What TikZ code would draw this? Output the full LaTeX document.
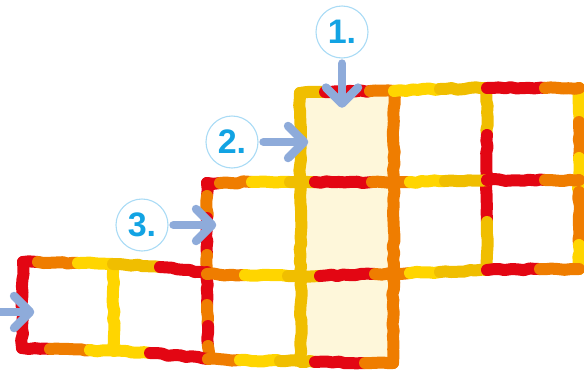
\documentclass[tikz,border=0pt]{standalone}
\usepackage{fontspec}
\usepackage{tikz}
\usetikzlibrary{arrows.meta,decorations.pathmorphing}
\newfontfamily\numfont{Liberation Sans}
\definecolor{bred}{HTML}{E30613}
\definecolor{borange}{HTML}{EF7D00}
\definecolor{byellow}{HTML}{FFD500}
\definecolor{bgold}{HTML}{F0BE00}
\definecolor{cream}{HTML}{FEF7DA}
\definecolor{arrowblue}{HTML}{8EABDA}
\definecolor{numcyan}{HTML}{12A3E3}
\definecolor{ringblue}{HTML}{A9DBF5}

\begin{document}
\begin{tikzpicture}[
    x=1pt, y=-1pt,
    rim/.style={line width=12pt, line cap=round, line join=round, decorate,
      decoration={random steps, segment length=6pt, amplitude=1pt}},
    cell/.style={minimum width=93pt, minimum height=90pt, inner sep=0pt},
    hint/.style={cell, fill=cream},
    ring/.style={circle, draw=ringblue, line width=1.1pt, minimum size=52pt, inner sep=0pt,
      text=numcyan, font=\numfont\bfseries\fontsize{34}{34}\selectfont},
    pointer/.style={-{Straight Barb[length=16pt, width=32pt, round]}, line width=8.5pt,
      line cap=round, draw=arrowblue, shorten <=5pt}
  ]
  \useasboundingbox (0,0) rectangle (584,370);
  \pgfmathsetseed{3}

  \node[cell] (c31) at (68,305) {};
  \node[cell] (c32) at (160,309) {};
  \node[cell] (c23) at (253,228) {};
  \node[cell] (c33) at (253,317) {};
  \node[hint] (c14) at (347,137) {};
  \node[hint] (c24) at (347,229) {};
  \node[hint] (c34) at (347,319) {};
  \node[cell] (c15) at (440,135) {};
  \node[cell] (c25) at (440,227) {};
  \node[cell] (c16) at (534,134) {};
  \node[cell] (c26) at (534,225) {};

  % vertical rims
  \draw[rim, bred] (23,262) -- (22,348);
  \draw[rim, byellow] (113,264) -- (114,351);
  \draw[rim, bred] (207,183) -- (207,196);
  \draw[rim, borange] (207,196) -- (207,218);
  \draw[rim, bred] (207,218) -- (207,255);
  \draw[rim, borange] (207,255) -- (207,272);
  \draw[rim, bred] (207,272) -- (207,305);
  \draw[rim, borange] (207,305) -- (208,326);
  \draw[rim, bred] (208,326) -- (208,346);
  \draw[rim, borange] (208,346) -- (208,359);
  \draw[rim, bgold] (300,93) -- (301,362);
  \draw[rim, borange] (394,91) -- (393,363);
  \draw[rim, bgold] (487,88) -- (487,135);
  \draw[rim, bred] (487,135) -- (487,222);
  \draw[rim, bgold] (487,222) -- (487,270);
  \draw[rim, byellow] (579,88) -- (579,122);
  \draw[rim, borange] (579,122) -- (579,158);
  \draw[rim, byellow] (579,158) -- (579,192);
  \draw[rim, borange] (579,192) -- (579,245);
  \draw[rim, byellow] (579,245) -- (579,269);

  % horizontal rims
  \draw[rim, bgold] (300,93) -- (325,92);
  \draw[rim, bred] (325,92) -- (370,91);
  \draw[rim, borange] (370,91) -- (394,91);
  \draw[rim, byellow] (394,91) -- (440,89);
  \draw[rim, bgold] (440,89) -- (487,88);
  \draw[rim, bred] (487,88) -- (545,88);
  \draw[rim, borange] (545,88) -- (579,88);

  \draw[rim, bred] (207,183) -- (220,183);
  \draw[rim, borange] (220,183) -- (252,182);
  \draw[rim, byellow] (252,182) -- (290,182);
  \draw[rim, bgold] (290,182) -- (315,182);
  \draw[rim, bred] (315,182) -- (372,182);
  \draw[rim, borange] (372,182) -- (410,182);
  \draw[rim, byellow] (410,182) -- (445,181);
  \draw[rim, bgold] (445,181) -- (487,180);
  \draw[rim, bred] (487,180) -- (545,180);
  \draw[rim, borange] (545,180) -- (579,180);

  \draw[rim, bred] (23,262) -- (38,262);
  \draw[rim, borange] (38,262) -- (78,263);
  \draw[rim, byellow] (78,263) -- (113,264);
  \draw[rim, bgold] (113,264) -- (160,267);
  \draw[rim, bred] (160,267) -- (207,273);
  \draw[rim, borange] (207,274) -- (245,275);
  \draw[rim, byellow] (245,275) -- (288,276);
  \draw[rim, bgold] (288,276) -- (320,276);
  \draw[rim, bred] (320,276) -- (375,274);
  \draw[rim, borange] (375,274) -- (410,273);
  \draw[rim, byellow] (410,273) -- (440,272);
  \draw[rim, bgold] (440,272) -- (487,270);
  \draw[rim, bred] (487,270) -- (540,269);
  \draw[rim, borange] (540,269) -- (579,269);

  \draw[rim, bred] (22,348) -- (50,349);
  \draw[rim, borange] (50,349) -- (90,350);
  \draw[rim, byellow] (90,350) -- (150,353);
  \draw[rim, bred] (150,353) -- (208,359);
  \draw[rim, borange] (208,359) -- (240,360);
  \draw[rim, byellow] (240,360) -- (280,361);
  \draw[rim, bgold] (280,361) -- (315,362);
  \draw[rim, bred] (315,362) -- (365,363);
  \draw[rim, borange] (365,363) -- (393,363);

  \node[ring] (n1) at (342,32) {1.};
  \node[ring] (n2) at (232,142) {2.};
  \node[ring] (n3) at (142,225) {3.};
  \coordinate (in4) at (-6,312);

  \draw[pointer, shorten >=-16pt] (n1) -- (n1 |- c14.north);
  \draw[pointer, shorten >=-8pt] (n2) -- (n2 -| c14.west);
  \draw[pointer, shorten >=-10pt] (n3) -- (n3 -| c23.west);
  \draw[pointer, shorten >=-13pt] (in4) -- (in4 -| c31.west);
\end{tikzpicture}
\end{document}
